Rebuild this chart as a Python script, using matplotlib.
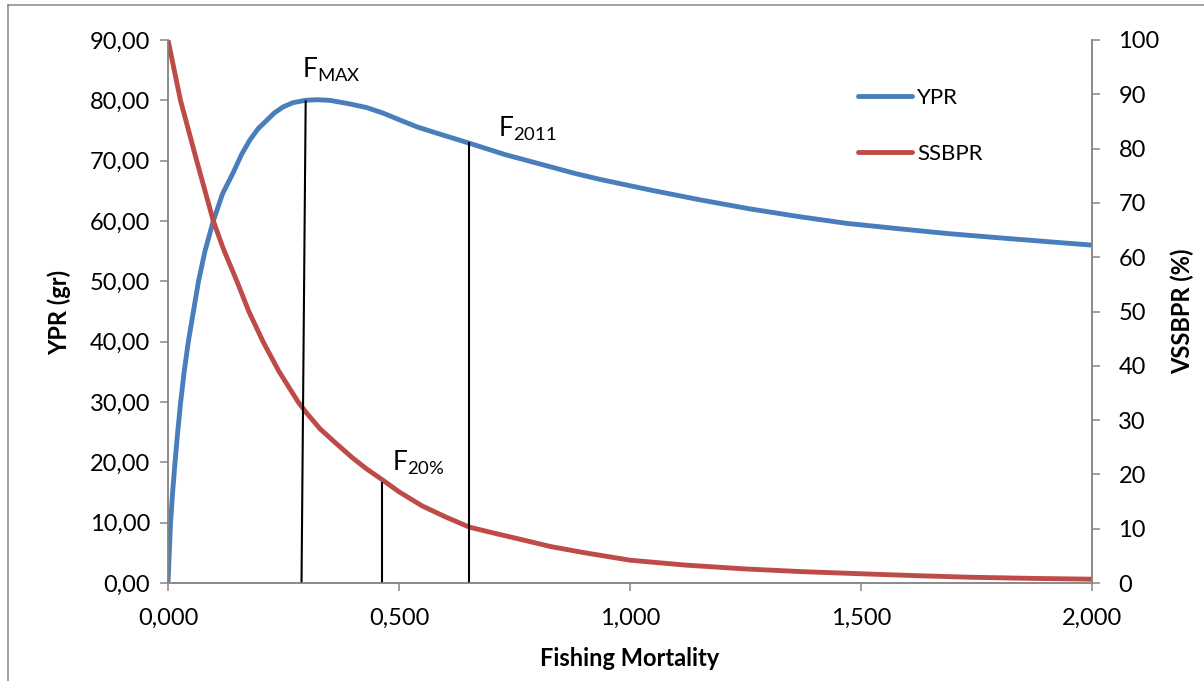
import matplotlib.pyplot as plt
from matplotlib.lines import Line2D

plt.rcParams['font.family'] = ['Lato', 'DejaVu Sans']
plt.rcParams['mathtext.default'] = 'regular'

# yield per recruit (gr) vs fishing mortality
f_ypr = [0.0, 0.0055, 0.010, 0.0152, 0.021, 0.0274, 0.035, 0.044, 0.055, 0.066,
         0.08, 0.098, 0.118, 0.141, 0.159, 0.177, 0.195, 0.214, 0.23, 0.249,
         0.27, 0.297, 0.323, 0.35, 0.394, 0.43, 0.465, 0.50, 0.539, 0.58,
         0.652, 0.73, 0.827, 0.88, 0.935, 1.04, 1.152, 1.26, 1.368, 1.47,
         1.584, 1.69, 1.801, 1.90, 2.0]
ypr = [0.0, 10.0, 15.0, 20.0, 25.0, 30.0, 35.0, 40.0, 45.0, 50.0,
       55.0, 60.0, 64.5, 68.0, 71.0, 73.4, 75.3, 76.7, 77.9, 78.9,
       79.6, 80.0, 80.1, 80.0, 79.4, 78.8, 77.9, 76.8, 75.6, 74.6,
       72.9, 71.0, 69.0, 67.9, 66.9, 65.2, 63.5, 62.0, 60.7, 59.6,
       58.7, 57.9, 57.2, 56.6, 56.0]

# spawning stock biomass per recruit (%)
f_ssb = [0.0, 0.027, 0.062, 0.098, 0.12, 0.149, 0.175, 0.206, 0.24, 0.282,
         0.30, 0.329, 0.36, 0.40, 0.43, 0.464, 0.50, 0.55, 0.60, 0.652,
         0.70, 0.75, 0.829, 0.90, 1.0, 1.12, 1.247, 1.37, 1.5, 1.62,
         1.741, 1.87, 2.0]
ssb = [100.0, 88.9, 77.8, 66.7, 61.5, 55.6, 50.0, 44.4, 39.0, 33.3,
       31.3, 28.4, 26.0, 23.0, 21.0, 19.0, 16.8, 14.2, 12.2, 10.3,
       9.3, 8.3, 6.7, 5.6, 4.2, 3.3, 2.6, 2.1, 1.7, 1.35,
       1.05, 0.85, 0.7]

# reference points: name, F at foot, F at top, height in YPR units
ref_names = ['MAX', '20%', '2011']
ref_f_low = [0.289, 0.464, 0.6515]
ref_f_high = [0.298, 0.464, 0.6515]
ref_height = [79.8, 16.6, 72.9]

blue = '#4A7EBB'
red = '#BE4B48'
grey = '#868686'

fig = plt.figure(figsize=(12.04, 6.81), dpi=100)
ax = fig.add_axes([168 / 1204, 1 - 583 / 681, 924 / 1204, 543 / 681])
ax2 = ax.twinx()

l1, = ax.plot(f_ypr, ypr, color=blue, lw=3.5, solid_capstyle='round',
              solid_joinstyle='round', label='YPR')
l2, = ax2.plot(f_ssb, ssb, color=red, lw=3.5, solid_capstyle='round',
               solid_joinstyle='round', label='SSBPR')

for name, f0, f1, h in zip(ref_names, ref_f_low, ref_f_high, ref_height):
    ax2.plot([f0, f1], [0, h], color='black', lw=1.5, transform=ax.transData)

ax2.text(0.290, 83.7, 'F$_{MAX}$', fontsize=19, transform=ax.transData)
ax2.text(0.714, 74.0, 'F$_{2011}$', fontsize=19, transform=ax.transData)
ax2.text(0.484, 18.6, 'F$_{20\\%}$', fontsize=19, transform=ax.transData)

ax.set_xlim(0, 2)
ax.set_ylim(0, 90)
ax2.set_ylim(0, 100)

xt = [0, 0.5, 1.0, 1.5, 2.0]
ax.set_xticks(xt)
ax.set_xticklabels([f'{v:.3f}'.replace('.', ',') for v in xt])
yt = list(range(0, 91, 10))
ax.set_yticks(yt)
ax.set_yticklabels([f'{v:.2f}'.replace('.', ',') for v in yt])
ax2.set_yticks(range(0, 101, 10))

for a in (ax, ax2):
    a.spines['top'].set_visible(False)
    for s in ('left', 'right', 'bottom'):
        a.spines[s].set_color(grey)
        a.spines[s].set_linewidth(1.1)
    a.tick_params(colors=grey, labelcolor='black', labelsize=17, length=6, width=1.1)
ax.tick_params(axis='y', pad=7)
ax.tick_params(axis='x', pad=12)
ax2.tick_params(axis='y', pad=13)

fig.text(59 / 1204, 1 - 312 / 681, 'YPR (gr)', rotation=90, ha='center', va='center',
         fontsize=17, fontweight='bold')
fig.text(1182 / 1204, 1 - 311 / 681, 'VSSBPR (%)', rotation=90, ha='center', va='center',
         fontsize=17, fontweight='bold')
fig.text(630 / 1204, 1 - 658 / 681, 'Fishing Mortality', ha='center', va='center',
         fontsize=17, fontweight='bold')

ax2.legend(handles=[l1, l2], loc='upper left', bbox_to_anchor=(0.7468, 0.9116),
           frameon=False, fontsize=16, handlelength=2.43, handletextpad=0.22,
           labelspacing=1.63, borderpad=0, borderaxespad=0)

# chart frame
fx = 8 / 1204
fy = 1 - 5 / 681
fig.add_artist(Line2D([fx, fx], [0, fy], color=grey, lw=1.1, transform=fig.transFigure))
fig.add_artist(Line2D([fx, 1], [fy, fy], color=grey, lw=1.1, transform=fig.transFigure))

fig.savefig('out.png', dpi=100)
